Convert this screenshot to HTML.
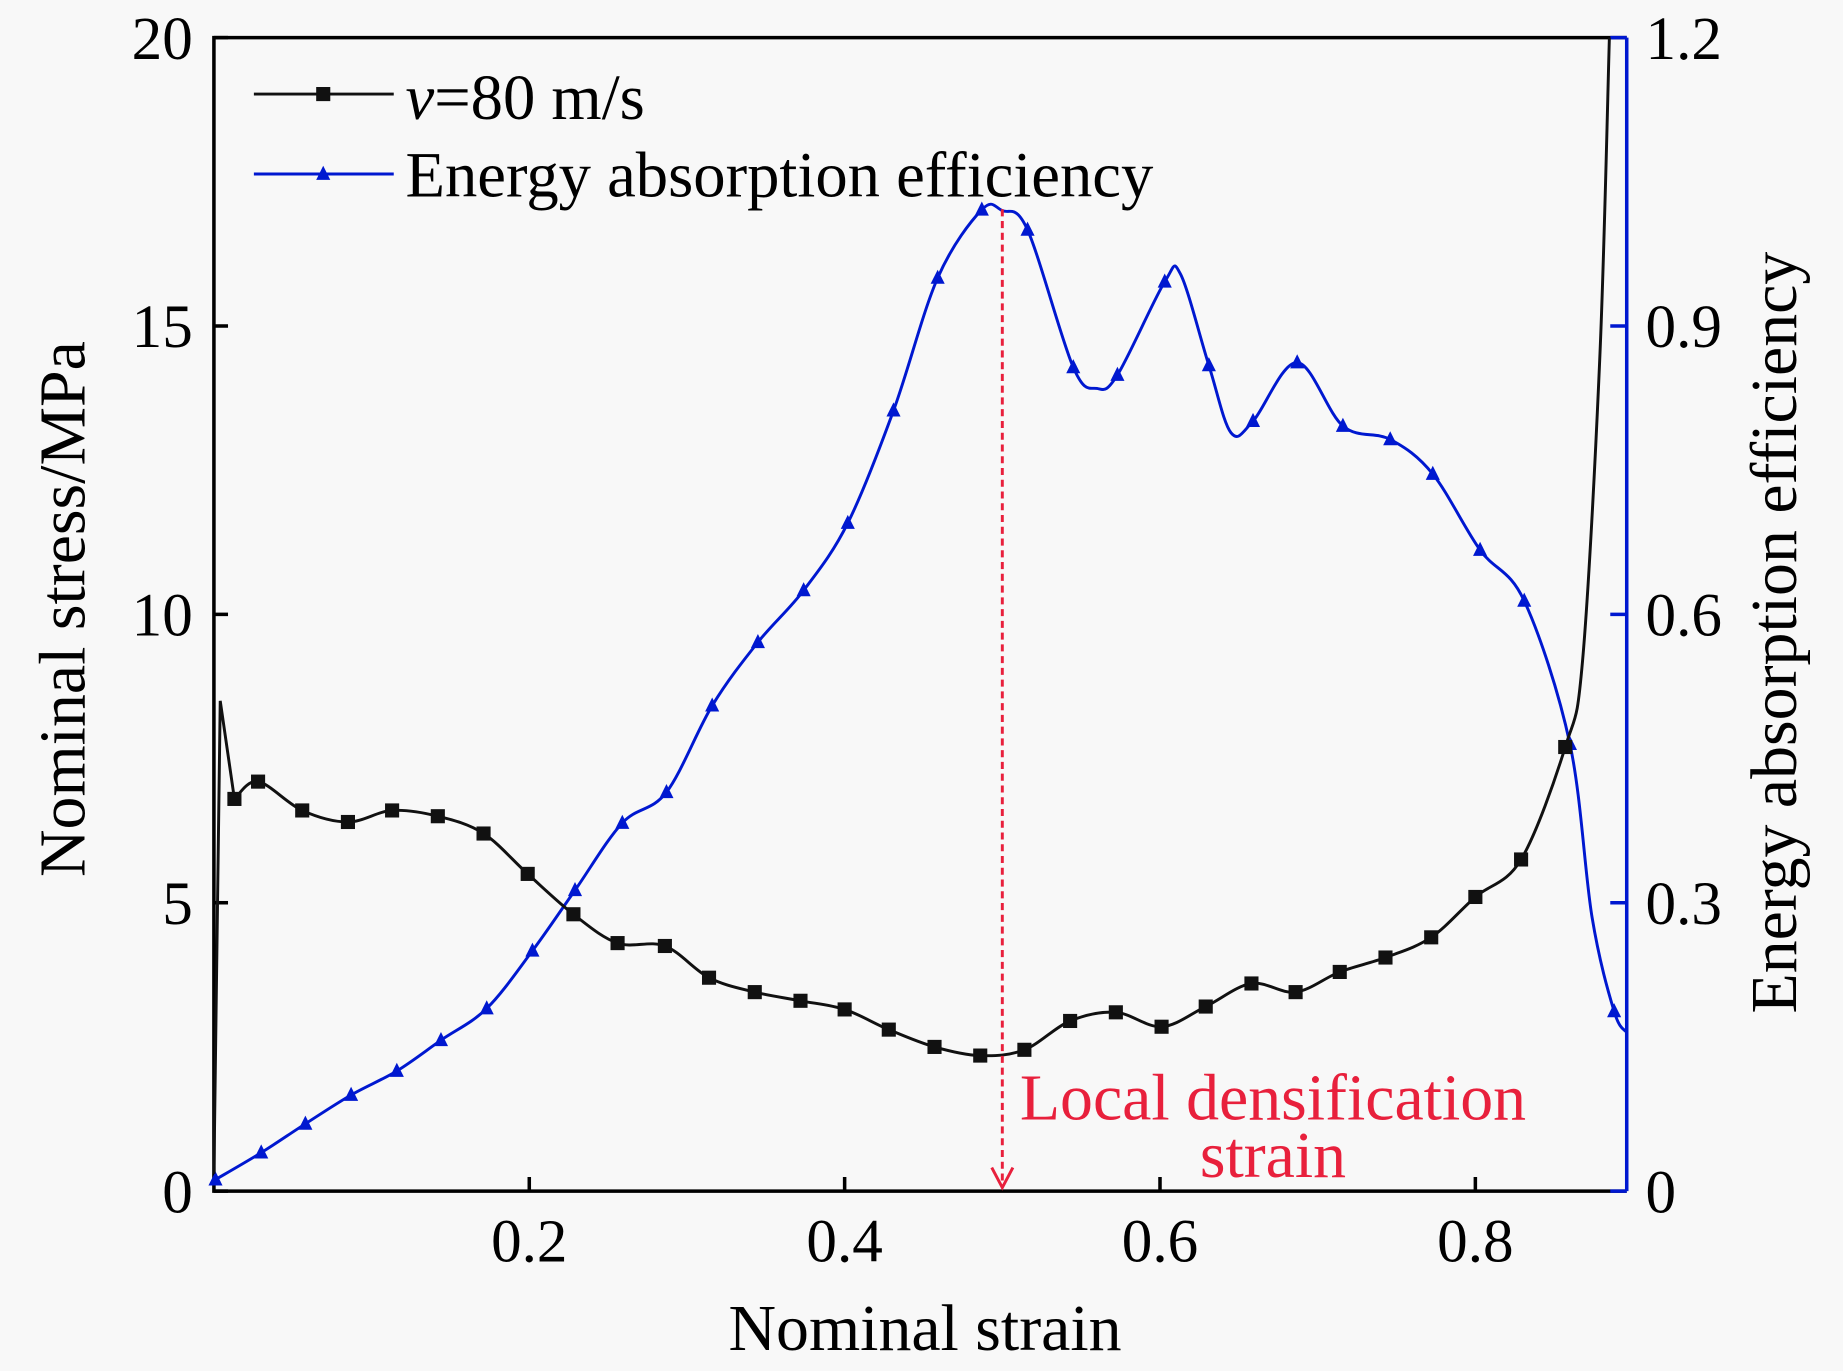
<!DOCTYPE html>
<html><head><meta charset="utf-8"><style>
html,body{margin:0;padding:0;background:#f8f8f8;}
svg{display:block;}
text{font-family:"Liberation Serif",serif;}
</style></head><body>
<svg id="chart" width="1843" height="1371" viewBox="0 0 1568 1166" preserveAspectRatio="none" xmlns="http://www.w3.org/2000/svg">
<rect x="0" y="0" width="1568" height="1166" fill="#f8f8f8"/>
<g id="plot"></g>
</svg>
<script>
const xTicks=[0.2,0.4,0.6,0.8];
const yLeftTicks=[0,5,10,15,20];
const yRightTicks=[0,0.3,0.6,0.9,1.2];
const yRightLabels=["0","0.3","0.6","0.9","1.2"];
const stressStrain=[0,0.004,0.013,0.028,0.056,0.085,0.113,0.142,0.171,0.199,0.228,0.256,0.286,0.314,0.343,0.372,0.4,0.428,0.457,0.486,0.514,0.543,0.572,0.601,0.629,0.658,0.686,0.714,0.743,0.772,0.8,0.829,0.857,0.868,0.879,0.885];
const stressVals=[0.3,8.5,6.8,7.1,6.6,6.4,6.6,6.5,6.2,5.5,4.8,4.3,4.25,3.7,3.45,3.3,3.15,2.8,2.5,2.35,2.45,2.95,3.1,2.85,3.2,3.6,3.45,3.8,4.05,4.4,5.1,5.75,7.7,9.2,14.5,20];
const effStrain=[0.001,0.03,0.058,0.087,0.116,0.144,0.173,0.202,0.229,0.259,0.287,0.316,0.345,0.374,0.402,0.431,0.459,0.487,0.5,0.516,0.545,0.56,0.573,0.603,0.613,0.631,0.645,0.659,0.687,0.716,0.746,0.773,0.803,0.831,0.86,0.874,0.888,0.896];
const effVals=[0.012,0.04,0.07,0.1,0.125,0.157,0.19,0.25,0.313,0.383,0.415,0.505,0.571,0.625,0.695,0.812,0.95,1.021,1.02,1.0,0.857,0.835,0.849,0.946,0.954,0.859,0.789,0.801,0.862,0.796,0.782,0.746,0.667,0.614,0.465,0.285,0.187,0.165];
const effMarker=[1,1,1,1,1,1,1,1,1,1,1,1,1,1,1,1,1,1,0,1,1,0,1,1,0,1,0,1,1,1,1,1,1,1,1,0,1,0];
const stressMarker=[0,0,1,1,1,1,1,1,1,1,1,1,1,1,1,1,1,1,1,1,1,1,1,1,1,1,1,1,1,1,1,1,1,0,0,0];

const L=182,R=1384,T=32,B=1013,XMAX=0.896;
const sx=v=>L+(v/XMAX)*(R-L);
const syL=v=>B-(v/20)*(B-T);
const syR=v=>B-(v/1.2)*(B-T);
const NS="http://www.w3.org/2000/svg";
const g=document.getElementById('plot');
function mk(tag,attrs,parent){const e=document.createElementNS(NS,tag);for(const k in attrs)e.setAttribute(k,attrs[k]);(parent||g).appendChild(e);return e;}
function smooth(pts){let d=`M${pts[0][0]},${pts[0][1]}`;for(let i=0;i<pts.length-1;i++){const p0=pts[i-1]||pts[i],p1=pts[i],p2=pts[i+1],p3=pts[i+2]||p2;const t=6;d+=` C${p1[0]+(p2[0]-p0[0])/t},${p1[1]+(p2[1]-p0[1])/t} ${p2[0]-(p3[0]-p1[0])/t},${p2[1]-(p3[1]-p1[1])/t} ${p2[0]},${p2[1]}`;}return d;}

let e=mk('path',{d:`M${R},${T} L${L},${T} L${L},${B} L${R},${B}`,fill:'none',stroke:'#000','stroke-width':3});


e=mk('line',{x1:R,y1:T,x2:R,y2:B,stroke:'#0018d0','stroke-width':3});



xTicks.forEach(v=>{
 const t=mk('line',{x1:sx(v),y1:B,x2:sx(v),y2:B-12,stroke:'#000','stroke-width':3});
 
 
 const l=mk('text',{x:sx(v),y:B+60,'font-size':52,'text-anchor':'middle'});l.textContent=v.toFixed(1);
 
 
});
yLeftTicks.forEach(v=>{
 const t=mk('line',{x1:L,y1:syL(v),x2:L+12,y2:syL(v),stroke:'#000','stroke-width':3});
 
 
 const l=mk('text',{x:L-18,y:syL(v)+18,'font-size':52,'text-anchor':'end'});l.textContent=v;
 
 
});
yRightTicks.forEach((v,i)=>{
 const t=mk('line',{x1:R,y1:syR(v),x2:R-14,y2:syR(v),stroke:'#0018d0','stroke-width':3});
 
 
 const l=mk('text',{x:R+16,y:syR(v)+18,'font-size':52});l.textContent=yRightLabels[i];
 
 
});
e=mk('text',{x:787,y:1148,'font-size':56,'text-anchor':'middle'});e.textContent='Nominal strain';


e=mk('text',{x:0,y:0,'font-size':56,'text-anchor':'middle',transform:'translate(72,518) rotate(-90)'});e.textContent='Nominal stress/MPa';


e=mk('text',{x:0,y:0,'font-size':56,'text-anchor':'middle',transform:'translate(1528,538) rotate(-90)'});e.textContent='Energy absorption efficiency';



const ep=effStrain.map((s,i)=>[sx(s),syR(effVals[i])]);
e=mk('path',{d:smooth(ep),fill:'none',stroke:'#0018d0','stroke-width':2.5});


ep.forEach((p,i)=>{if(!effMarker[i])return;
 const m=mk('path',{d:`M${p[0]},${p[1]-7} L${p[0]+6},${p[1]+5} L${p[0]-6},${p[1]+5}Z`,fill:'#0018d0'});
 
 
});
const sp=stressStrain.map((s,i)=>[sx(s),syL(stressVals[i])]);
let d=`M${sp[0][0]},${sp[0][1]} L${sp[1][0]},${sp[1][1]} L${sp[2][0]},${sp[2][1]}`+smooth(sp.slice(2)).replace(/^M[^C]*/,' ');
e=mk('path',{d:d,fill:'none',stroke:'#111','stroke-width':2.5});


sp.forEach((p,i)=>{if(!stressMarker[i])return;
 const m=mk('rect',{x:p[0]-6,y:p[1]-6,width:12,height:12,fill:'#111'});
 
 
});

e=mk('line',{x1:sx(0.5),y1:178,x2:sx(0.5),y2:1008,stroke:'#e8203c','stroke-width':2.5,'stroke-dasharray':'6,4'});


e=mk('path',{d:`M${sx(0.5)-9},${993} L${sx(0.5)},${1010} L${sx(0.5)+9},${993}`,fill:'none',stroke:'#e8203c','stroke-width':2.5});


e=mk('text',{x:1083,y:952,'font-size':56,'text-anchor':'middle',fill:'#e8203c'});e.textContent='Local densification';


e=mk('text',{x:1083,y:1001,'font-size':56,'text-anchor':'middle',fill:'#e8203c'});e.textContent='strain';



e=mk('line',{x1:216,y1:80,x2:335,y2:80,stroke:'#111','stroke-width':2.5});


e=mk('rect',{x:269,y:74,width:12,height:12,fill:'#111'});


e=mk('text',{x:345,y:101,'font-size':55});
e.innerHTML='<tspan font-style="italic">v</tspan>=80 m/s';


e=mk('line',{x1:216,y1:148,x2:335,y2:148,stroke:'#0018d0','stroke-width':2.5});


e=mk('path',{d:'M275,141 L281,153 L269,153Z',fill:'#0018d0'});


e=mk('text',{x:345,y:167,'font-size':55});e.textContent='Energy absorption efficiency';


</script>
</body></html>
